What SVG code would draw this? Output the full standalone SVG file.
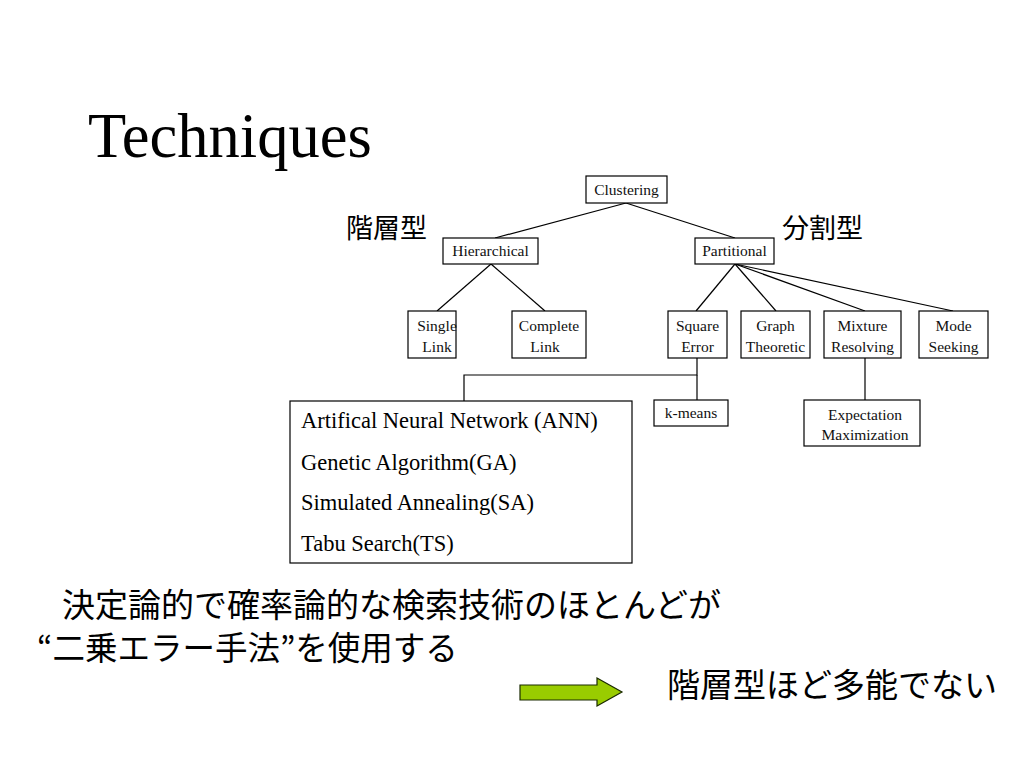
<svg xmlns="http://www.w3.org/2000/svg" width="1024" height="768" viewBox="0 0 1024 768">
<style>
.box{fill:#fff;stroke:#000;stroke-width:1.2}
.lbl{font-family:"Liberation Serif","Times New Roman",serif;font-size:15.5px;text-anchor:middle;fill:#111}
.lst{font-family:"Liberation Serif","Times New Roman",serif;font-size:22.5px;fill:#000}
.jp{font-family:"Noto Sans CJK JP","Noto Sans",sans-serif;fill:#000}
.ln{stroke:#000;stroke-width:1.2;fill:none}
</style>
<rect width="1024" height="768" fill="#fff"/>
<text x="88" y="157" font-family="Liberation Serif,'Times New Roman',serif" font-size="62.5" fill="#000">Techniques</text>

<g id="connectors">
<line class="ln" x1="626" y1="203" x2="495" y2="238"/>
<line class="ln" x1="626" y1="203" x2="735" y2="238"/>
<line class="ln" x1="491" y1="264" x2="437" y2="311"/>
<line class="ln" x1="491" y1="264" x2="545" y2="311"/>
<line class="ln" x1="735" y1="264" x2="696" y2="311"/>
<line class="ln" x1="735" y1="264" x2="776" y2="311"/>
<line class="ln" x1="735" y1="264" x2="865" y2="311"/>
<line class="ln" x1="735" y1="264" x2="953" y2="311"/>
<polyline class="ln" points="697,358 697,375 464,375 464,401"/>
<line class="ln" x1="697" y1="375" x2="697" y2="400"/>
<line class="ln" x1="865" y1="358" x2="865" y2="400"/>
</g>

<g id="clustering"><rect class="box" x="586" y="176" width="81" height="27"/><text class="lbl" x="626.5" y="195">Clustering</text></g>
<g id="hierarchical"><rect class="box" x="443" y="238" width="95" height="26"/><text class="lbl" x="490.5" y="256">Hierarchical</text></g>
<g id="partitional"><rect class="box" x="695" y="238" width="79" height="26"/><text class="lbl" x="734.5" y="256">Partitional</text></g>

<g id="single-link"><rect class="box" x="408" y="311" width="48" height="47"/><text class="lbl" x="437" y="331">Single</text><text class="lbl" x="437" y="352">Link</text></g>
<g id="complete-link"><rect class="box" x="512" y="311" width="74" height="47"/><text class="lbl" x="549" y="331">Complete</text><text class="lbl" x="545" y="352">Link</text></g>
<g id="square-error"><rect class="box" x="668" y="311" width="59" height="47"/><text class="lbl" x="697.5" y="331">Square</text><text class="lbl" x="697.5" y="352">Error</text></g>
<g id="graph-theoretic"><rect class="box" x="741" y="311" width="69" height="47"/><text class="lbl" x="775.5" y="331">Graph</text><text class="lbl" x="775.5" y="352">Theoretic</text></g>
<g id="mixture-resolving"><rect class="box" x="824" y="311" width="77" height="47"/><text class="lbl" x="862.5" y="331">Mixture</text><text class="lbl" x="862.5" y="352">Resolving</text></g>
<g id="mode-seeking"><rect class="box" x="919" y="311" width="69" height="47"/><text class="lbl" x="953.5" y="331">Mode</text><text class="lbl" x="953.5" y="352">Seeking</text></g>

<g id="k-means"><rect class="box" x="654" y="400" width="74" height="26"/><text class="lbl" x="691" y="418">k-means</text></g>
<g id="expectation-maximization"><rect class="box" x="804" y="400" width="116" height="46"/><text class="lbl" x="865" y="420">Expectation</text><text class="lbl" x="865" y="440">Maximization</text></g>

<g id="methods"><rect class="box" x="290" y="401" width="342" height="162"/>
<text class="lst" x="301" y="428">Artifical Neural Network (ANN)</text>
<text class="lst" x="301" y="470">Genetic Algorithm(GA)</text>
<text class="lst" x="301" y="510">Simulated Annealing(SA)</text>
<text class="lst" x="301" y="551">Tabu Search(TS)</text>
</g>

<text class="jp" x="346" y="238" font-size="27">階層型</text>
<text class="jp" x="782" y="238" font-size="27">分割型</text>

<text class="jp" x="62" y="617" font-size="33">決定論的で確率論的な検索技術のほとんどが</text>
<text class="jp" x="37" y="660" font-size="32.5">“二乗エラー手法”を使用する</text>
<text class="jp" x="667" y="697" font-size="33">階層型ほど多能でない</text>

<g id="arrow"><polygon points="520,685 597,685 597,678 622,692 597,706 597,700 520,700" fill="#99cc00" stroke="#1a2a00" stroke-width="1.2"/></g>
</svg>
